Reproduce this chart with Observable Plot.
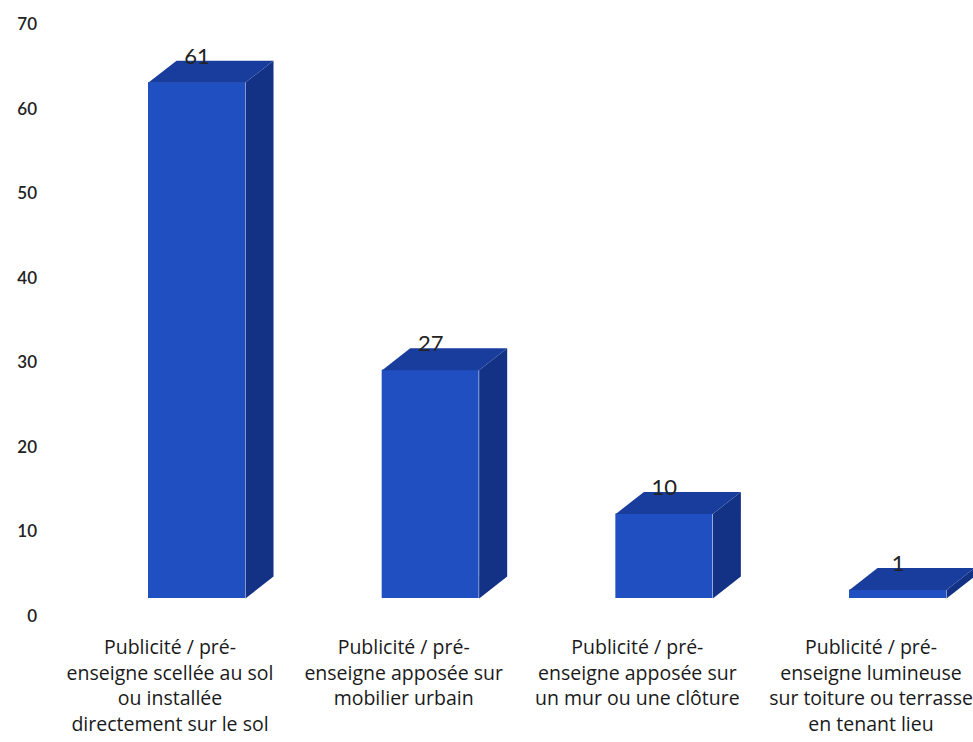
<!DOCTYPE html>
<html><head><meta charset="utf-8">
<script src="https://cdn.jsdelivr.net/npm/d3@7"></script>
<script src="https://cdn.jsdelivr.net/npm/@observablehq/plot@0.6"></script>
<style>
html,body{margin:0;padding:0;background:#fff;}
</style>
</head><body>
<div id="chart"></div>
<script>
const categories = [
  "Publicité / pré-\nenseigne scellée au sol\nou installée\ndirectement sur le sol",
  "Publicité / pré-\nenseigne apposée sur\nmobilier urbain",
  "Publicité / pré-\nenseigne apposée sur\nun mur ou une clôture",
  "Publicité / pré-\nenseigne lumineuse\nsur toiture ou terrasse\nen tenant lieu"
];
const values = [61, 27, 10, 1];
const yTicks = [0, 10, 20, 30, 40, 50, 60, 70];

// 3D look parameters (in scale units)
const halfW = 0.2075;   // half bar width
const depthX = 0.12;    // depth offset along x
const depthY = 2.6;     // depth offset along y
const lift = -18;       // front-face floor offset in px

const data = values.map((v, i) => ({i, v, cat: categories[i]}));

const sides = [], tops = [];
data.forEach(d => {
  const l = d.i - halfW, r = d.i + halfW;
  [[r,0],[r+depthX,depthY],[r+depthX,d.v+depthY],[r,d.v],[r,0]].forEach(([x,y]) => sides.push({k:d.i,x,y}));
  [[l,d.v],[l+depthX,d.v+depthY],[r+depthX,d.v+depthY],[r,d.v],[l,d.v]].forEach(([x,y]) => tops.push({k:d.i,x,y}));
});

const chart = Plot.plot({
  width: 973,
  height: 742,
  marginLeft: 0, marginRight: 0, marginTop: 0, marginBottom: 0,
  style: {fontFamily: "'Open Sans', Lato, sans-serif", background: "#fff"},
  x: {type: "linear", domain: [0, 3], range: [196.5, 897.5], axis: null},
  y: {type: "linear", domain: [0, 70], range: [616, 24], axis: null},
  marks: [
    // front faces
    Plot.rect(data, {x1: d => d.i - halfW, x2: d => d.i + halfW, y1: 0, y2: "v", fill: "#1f4fc0", dy: lift}),
    // side faces
    Plot.line(sides, {x: "x", y: "y", z: "k", fill: "#133285", stroke: "none", dy: lift}),
    // top faces
    Plot.line(tops, {x: "x", y: "y", z: "k", fill: "#183d9c", stroke: "none", dy: lift}),
    // value labels
    Plot.text(data, {x: "i", y: d => d.v + depthY, text: d => String(d.v), dy: lift + 3, lineAnchor: "bottom", fontSize: 22, fill: "#222", fontFamily: "Lato, sans-serif"}),
    // y tick labels
    Plot.text(yTicks, {x: 0, y: d => d, text: d => String(d), frameAnchor: "left", dx: -160, textAnchor: "end", fontSize: 17, fill: "#222", fontWeight: 600, fontFamily: "Lato, sans-serif"}),
    // category labels
    Plot.text(data, {x: "i", y: 0, text: "cat", dx: -27, dy: 19, lineAnchor: "top", lineHeight: 1.32, fontSize: 19.5, fill: "#1a1a1a"})
  ]
});
document.getElementById("chart").appendChild(chart);
</script>
</body></html>
